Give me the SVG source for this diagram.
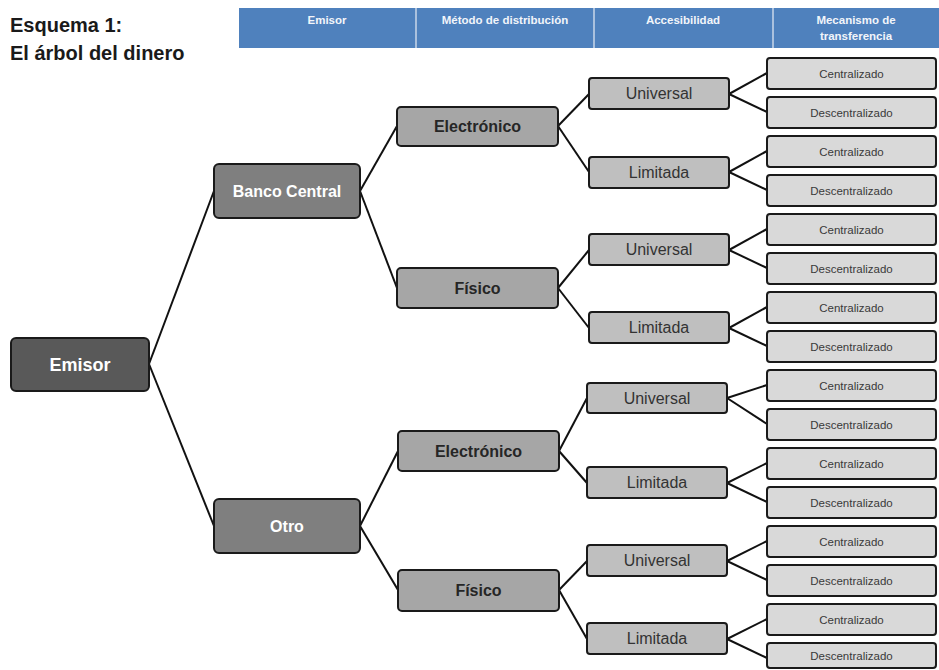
<svg xmlns="http://www.w3.org/2000/svg" width="939" height="670" viewBox="0 0 939 670">
  <style>
    text { font-family: "Liberation Sans", Arial, sans-serif; text-anchor: middle; }
    .title { font-size: 20px; font-weight: bold; fill: #1a1a1a; text-anchor: start; }
    .hdr { fill: #4f81bd; }
    .hdr-sep { stroke: #c9d7ea; stroke-width: 1.5; }
    .hdr-t { font-size: 11.5px; font-weight: bold; fill: #f2f5fa; }
    .box { stroke: #1a1a1a; stroke-width: 2; }
    .l0 { fill: #595959; }
    .l1 { fill: #7f7f7f; }
    .l2 { fill: #a6a6a6; }
    .l3 { fill: #bfbfbf; }
    .l4 { fill: #d9d9d9; }
    .t0 { font-size: 18px; font-weight: bold; fill: #ffffff; }
    .t1 { font-size: 16px; font-weight: bold; fill: #ffffff; }
    .t2 { font-size: 16px; font-weight: bold; fill: #262626; }
    .t3 { font-size: 16px; fill: #333333; }
    .t4 { font-size: 11.5px; fill: #3a3a3a; }
    .conn line { stroke: #111111; stroke-width: 2; }
  </style>

  <!-- Title -->
  <text class="title" x="10" y="32">Esquema 1:</text>
  <text class="title" x="10" y="60">El árbol del dinero</text>

  <!-- Column header band -->
  <g id="header">
    <rect class="hdr" x="239" y="8" width="700" height="40"/>
    <line class="hdr-sep" x1="416" y1="8" x2="416" y2="48"/>
    <line class="hdr-sep" x1="594" y1="8" x2="594" y2="48"/>
    <line class="hdr-sep" x1="773" y1="8" x2="773" y2="48"/>
    <text class="hdr-t" x="327" y="24">Emisor</text>
    <text class="hdr-t" x="505" y="24">Método de distribución</text>
    <text class="hdr-t" x="683" y="24">Accesibilidad</text>
    <text class="hdr-t" x="856" y="24">Mecanismo de</text>
    <text class="hdr-t" x="856" y="40">transferencia</text>
  </g>

  <!-- Connectors -->
  <g id="connectors" class="conn">
    <!-- Emisor -> issuers -->
    <line x1="149" y1="364" x2="214" y2="191"/>
    <line x1="149" y1="364" x2="214" y2="526"/>
    <!-- issuers -> distribution -->
    <line x1="360" y1="191" x2="397" y2="126"/>
    <line x1="360" y1="191" x2="397" y2="288"/>
    <line x1="360" y1="526" x2="398" y2="451"/>
    <line x1="360" y1="526" x2="398" y2="590"/>
    <!-- distribution -> accessibility -->
    <line x1="558" y1="126" x2="589" y2="94"/>
    <line x1="558" y1="126" x2="589" y2="172"/>
    <line x1="558" y1="288" x2="589" y2="250"/>
    <line x1="558" y1="288" x2="589" y2="328"/>
    <line x1="559" y1="451" x2="587" y2="398"/>
    <line x1="559" y1="451" x2="587" y2="483"/>
    <line x1="559" y1="590" x2="587" y2="561"/>
    <line x1="559" y1="590" x2="587" y2="639"/>
    <!-- accessibility -> transfer mechanism -->
    <line x1="729" y1="94" x2="767" y2="73"/>
    <line x1="729" y1="94" x2="767" y2="112"/>
    <line x1="729" y1="172" x2="767" y2="151"/>
    <line x1="729" y1="172" x2="767" y2="190"/>
    <line x1="729" y1="250" x2="767" y2="229"/>
    <line x1="729" y1="250" x2="767" y2="268"/>
    <line x1="729" y1="328" x2="767" y2="307"/>
    <line x1="729" y1="328" x2="767" y2="346"/>
    <line x1="727" y1="398" x2="767" y2="385"/>
    <line x1="727" y1="398" x2="767" y2="424"/>
    <line x1="727" y1="483" x2="767" y2="463"/>
    <line x1="727" y1="483" x2="767" y2="502"/>
    <line x1="727" y1="561" x2="767" y2="541"/>
    <line x1="727" y1="561" x2="767" y2="580"/>
    <line x1="727" y1="639" x2="767" y2="619"/>
    <line x1="727" y1="639" x2="767" y2="658"/>
  </g>

  <!-- Root -->
  <g id="emisor">
    <rect class="box l0" x="11" y="338" width="138" height="53" rx="5"/>
    <text class="t0" x="80" y="370.5">Emisor</text>
  </g>

  <!-- Issuers -->
  <g id="banco-central">
    <rect class="box l1" x="214" y="164" width="146" height="54" rx="5"/>
    <text class="t1" x="287" y="196.5">Banco Central</text>
  </g>
  <g id="otro">
    <rect class="box l1" x="214" y="499" width="146" height="54" rx="5"/>
    <text class="t1" x="287" y="531.5">Otro</text>
  </g>

  <!-- Distribution method -->
  <g id="bc-electronico">
    <rect class="box l2" x="397" y="107" width="161" height="39" rx="4"/>
    <text class="t2" x="477.5" y="132">Electrónico</text>
  </g>
  <g id="bc-fisico">
    <rect class="box l2" x="397" y="268" width="161" height="40" rx="4"/>
    <text class="t2" x="477.5" y="293.5">Físico</text>
  </g>
  <g id="ot-electronico">
    <rect class="box l2" x="398" y="431" width="161" height="40" rx="4"/>
    <text class="t2" x="478.5" y="456.5">Electrónico</text>
  </g>
  <g id="ot-fisico">
    <rect class="box l2" x="398" y="570" width="161" height="41" rx="4"/>
    <text class="t2" x="478.5" y="596">Físico</text>
  </g>

  <!-- Accessibility -->
  <g id="bc-el-universal">
    <rect class="box l3" x="589" y="78" width="140" height="31" rx="3"/>
    <text class="t3" x="659" y="99">Universal</text>
  </g>
  <g id="bc-el-limitada">
    <rect class="box l3" x="589" y="157" width="140" height="31" rx="3"/>
    <text class="t3" x="659" y="178">Limitada</text>
  </g>
  <g id="bc-fi-universal">
    <rect class="box l3" x="589" y="234" width="140" height="31" rx="3"/>
    <text class="t3" x="659" y="255">Universal</text>
  </g>
  <g id="bc-fi-limitada">
    <rect class="box l3" x="589" y="312" width="140" height="31" rx="3"/>
    <text class="t3" x="659" y="333">Limitada</text>
  </g>
  <g id="ot-el-universal">
    <rect class="box l3" x="587" y="383" width="140" height="30" rx="3"/>
    <text class="t3" x="657" y="403.5">Universal</text>
  </g>
  <g id="ot-el-limitada">
    <rect class="box l3" x="587" y="467" width="140" height="31" rx="3"/>
    <text class="t3" x="657" y="488">Limitada</text>
  </g>
  <g id="ot-fi-universal">
    <rect class="box l3" x="587" y="545" width="140" height="31" rx="3"/>
    <text class="t3" x="657" y="566">Universal</text>
  </g>
  <g id="ot-fi-limitada">
    <rect class="box l3" x="587" y="623" width="140" height="31" rx="3"/>
    <text class="t3" x="657" y="644">Limitada</text>
  </g>

  <!-- Transfer mechanism -->
  <g id="m01"><rect class="box l4" x="767" y="58" width="169" height="31" rx="3"/><text class="t4" x="851.5" y="77.5">Centralizado</text></g>
  <g id="m02"><rect class="box l4" x="767" y="97" width="169" height="31" rx="3"/><text class="t4" x="851.5" y="116.5">Descentralizado</text></g>
  <g id="m03"><rect class="box l4" x="767" y="136" width="169" height="31" rx="3"/><text class="t4" x="851.5" y="155.5">Centralizado</text></g>
  <g id="m04"><rect class="box l4" x="767" y="175" width="169" height="31" rx="3"/><text class="t4" x="851.5" y="194.5">Descentralizado</text></g>
  <g id="m05"><rect class="box l4" x="767" y="214" width="169" height="31" rx="3"/><text class="t4" x="851.5" y="233.5">Centralizado</text></g>
  <g id="m06"><rect class="box l4" x="767" y="253" width="169" height="31" rx="3"/><text class="t4" x="851.5" y="272.5">Descentralizado</text></g>
  <g id="m07"><rect class="box l4" x="767" y="292" width="169" height="31" rx="3"/><text class="t4" x="851.5" y="311.5">Centralizado</text></g>
  <g id="m08"><rect class="box l4" x="767" y="331" width="169" height="31" rx="3"/><text class="t4" x="851.5" y="350.5">Descentralizado</text></g>
  <g id="m09"><rect class="box l4" x="767" y="370" width="169" height="31" rx="3"/><text class="t4" x="851.5" y="389.5">Centralizado</text></g>
  <g id="m10"><rect class="box l4" x="767" y="409" width="169" height="31" rx="3"/><text class="t4" x="851.5" y="428.5">Descentralizado</text></g>
  <g id="m11"><rect class="box l4" x="767" y="448" width="169" height="31" rx="3"/><text class="t4" x="851.5" y="467.5">Centralizado</text></g>
  <g id="m12"><rect class="box l4" x="767" y="487" width="169" height="31" rx="3"/><text class="t4" x="851.5" y="506.5">Descentralizado</text></g>
  <g id="m13"><rect class="box l4" x="767" y="526" width="169" height="31" rx="3"/><text class="t4" x="851.5" y="545.5">Centralizado</text></g>
  <g id="m14"><rect class="box l4" x="767" y="565" width="169" height="31" rx="3"/><text class="t4" x="851.5" y="584.5">Descentralizado</text></g>
  <g id="m15"><rect class="box l4" x="767" y="604" width="169" height="31" rx="3"/><text class="t4" x="851.5" y="623.5">Centralizado</text></g>
  <g id="m16"><rect class="box l4" x="767" y="643" width="169" height="25" rx="3"/><text class="t4" x="851.5" y="660">Descentralizado</text></g>
</svg>
